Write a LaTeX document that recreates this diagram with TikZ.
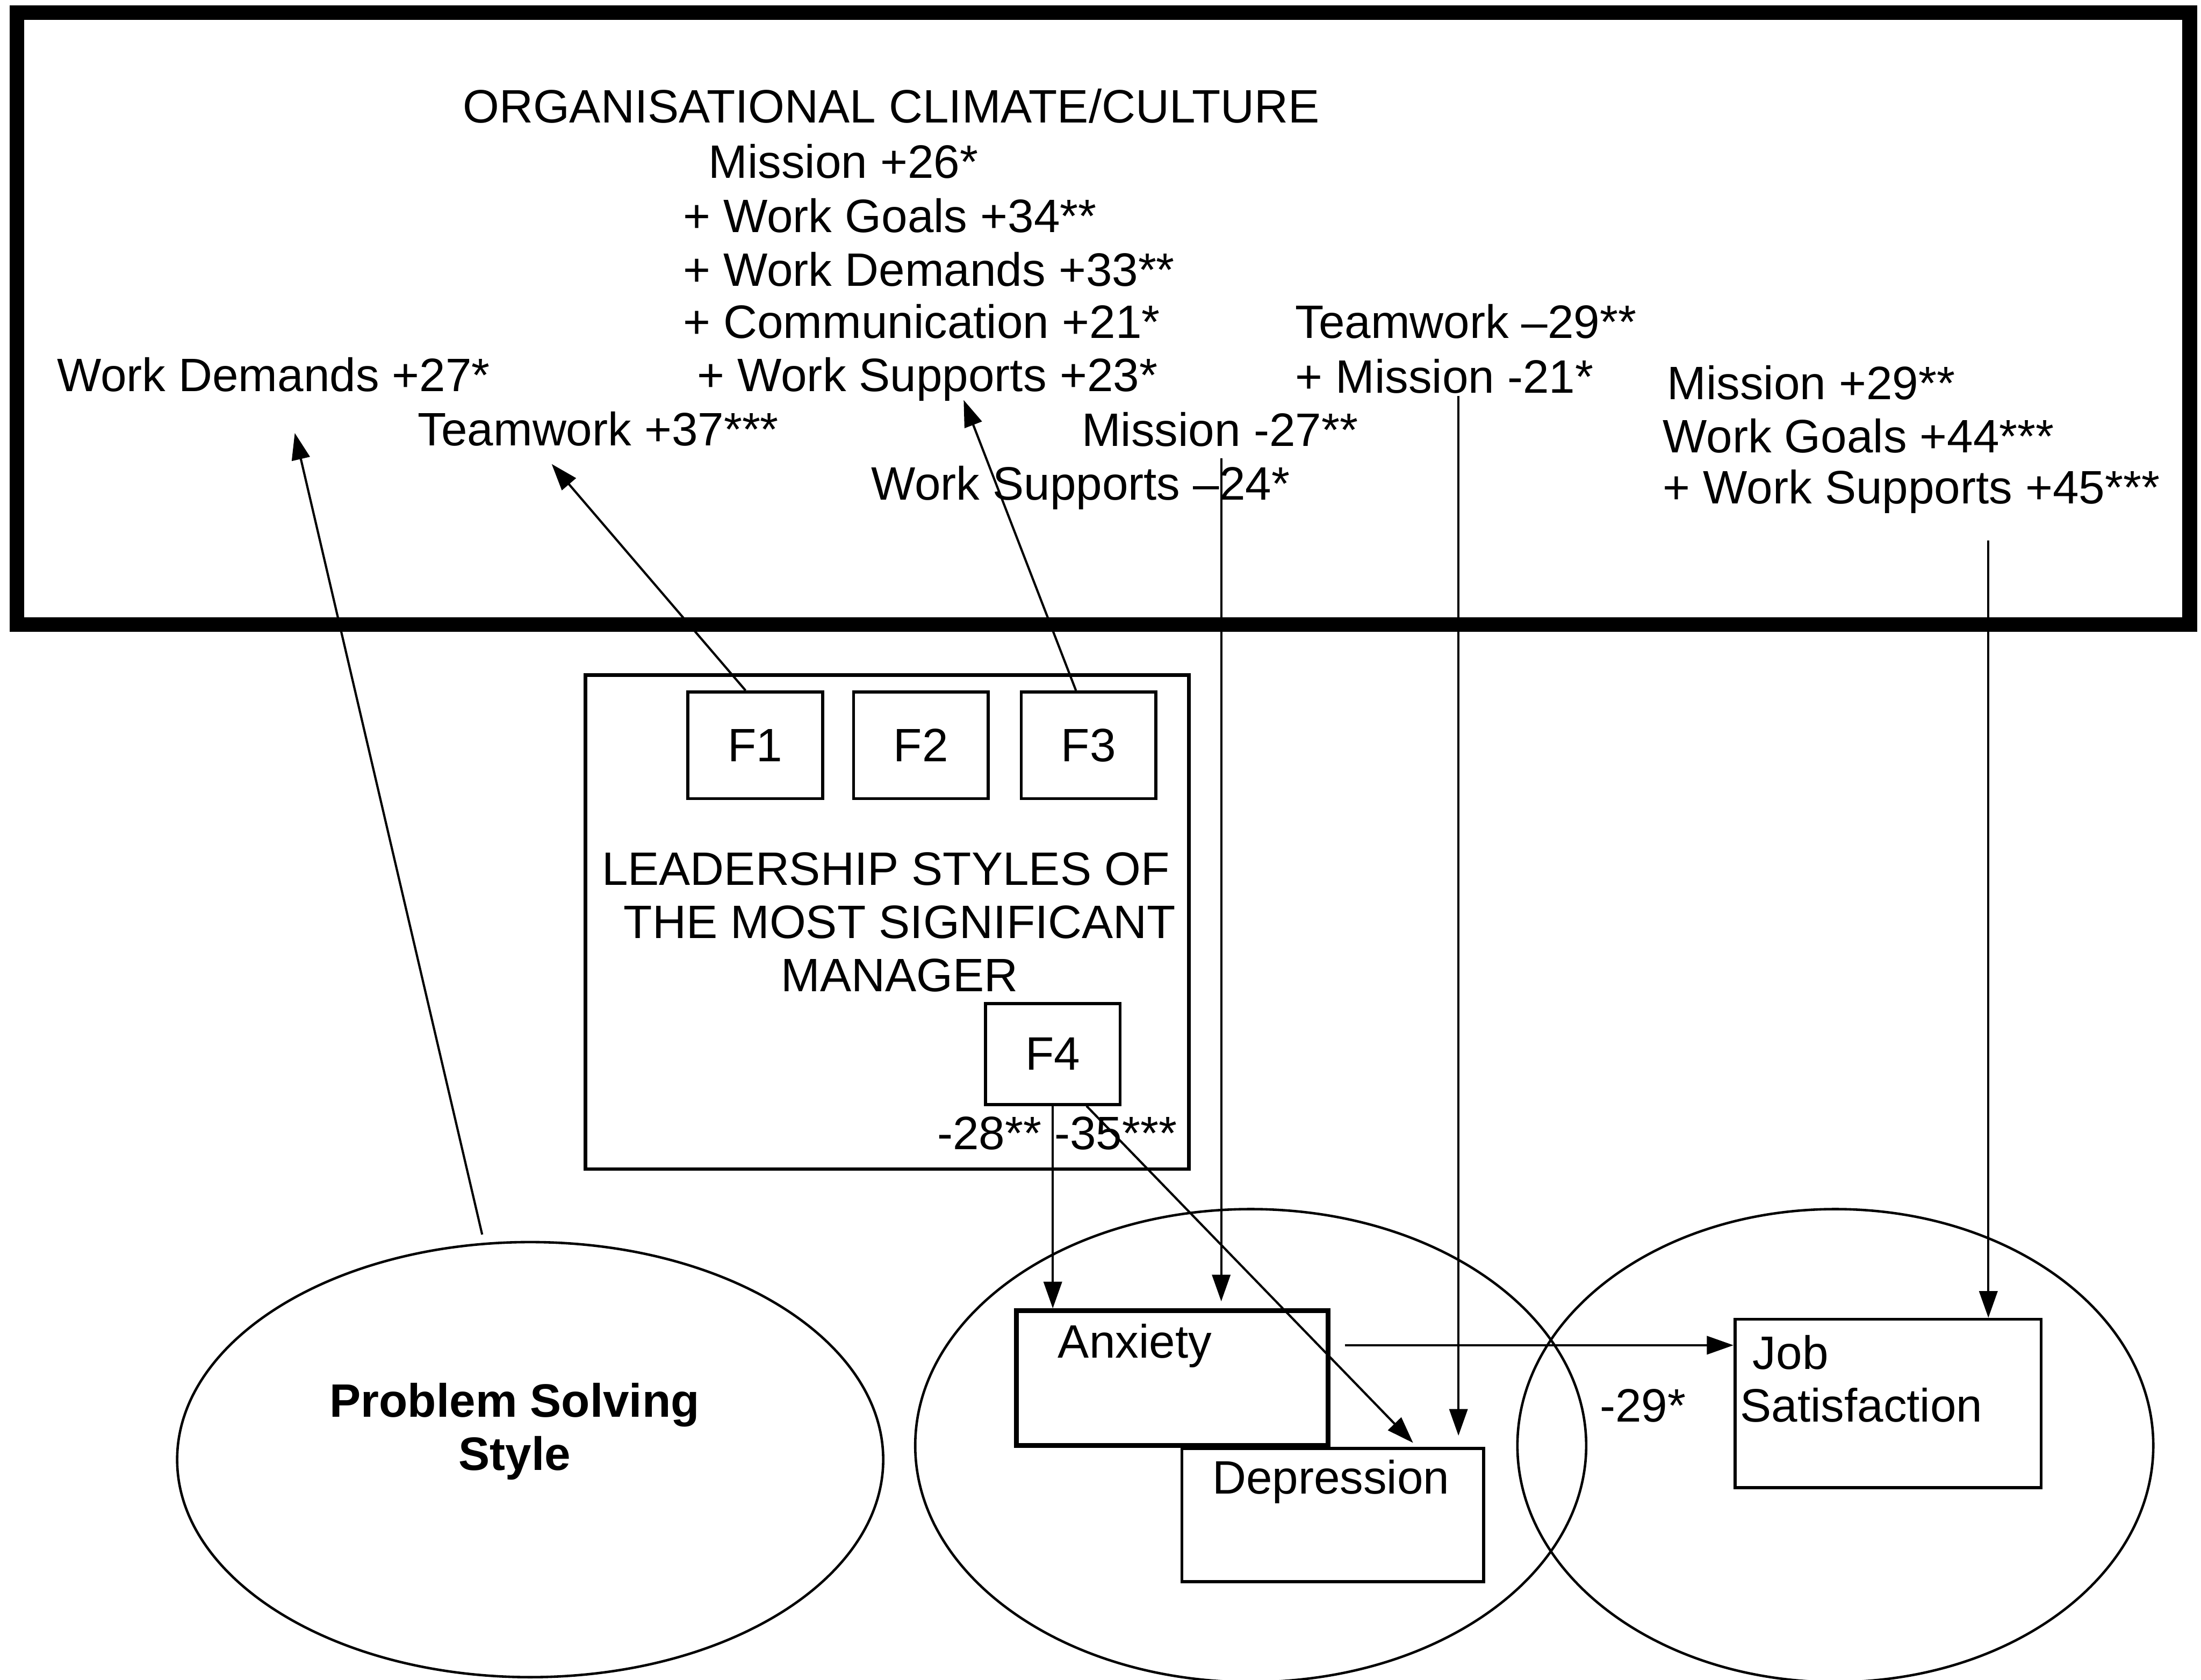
\documentclass[tikz,border=0pt]{standalone}
\usepackage{fontspec}
\setmainfont{Liberation Sans}
\usetikzlibrary{arrows.meta,shapes.geometric}

\tikzset{
	txt/.style={anchor=base west, inner sep=0pt, font=\fontsize{9.5}{10.8}\selectfont},
	fbox/.style={draw, line width=0.6pt, inner sep=0pt, font=\fontsize{9.5}{10.8}\selectfont},
	oval/.style={draw, ellipse, line width=0.5pt, inner sep=0pt},
	arr/.style={line width=0.45pt, -{Triangle[length=0.19cm, width=0.13cm]}},
}

\begin{document}
\begin{tikzpicture}
		\useasboundingbox (0,0) rectangle (15.68,-11.97);
		\draw[line width=3pt] (0.12,-0.09) rectangle (15.60,-4.45);
		
		%--- organisational climate
		\node[txt] (org) at (3.29,-0.873) {ORGANISATIONAL CLIMATE/CULTURE};
		\node[txt] (mis26) at (5.04,-1.27) {Mission +26*};
		\node[txt] (wg34) at (4.86,-1.655) {+ Work Goals +34**};
		\node[txt] (wd33) at (4.86,-2.04) {+ Work Demands +33**};
		\node[txt] (com21) at (4.86,-2.41) {+ Communication +21*};
		\node[txt] (ws23) at (4.96,-2.79) {+ Work Supports +23*};
		\node[txt] (wd27) at (0.40,-2.79) {Work Demands +27*};
		\node[txt] (tw37) at (2.97,-3.175) {Teamwork +37***};
		\node[txt] (tw29) at (9.22,-2.41) {Teamwork \textendash29**};
		\node[txt] (mis21) at (9.22,-2.80) {+ Mission -21*};
		\node[txt] (mis27) at (7.70,-3.18) {Mission -27**};
		\node[txt] (ws24) at (6.20,-3.56) {Work Supports \textendash24*};
		\node[txt] (mis29) at (11.87,-2.845) {Mission +29**};
		\node[txt] (wg44) at (11.84,-3.226) {Work Goals +44***};
		\node[txt] (ws45) at (11.84,-3.587) {+ Work Supports +45***};
		
		%--- leadership
		\node[draw, line width=0.7pt, minimum width=4.30cm, minimum height=3.52cm] (lead) at (6.32,-6.57) {};
		\node[fbox, minimum width=0.96cm, minimum height=0.76cm] (f1) at (5.38,-5.31) {F1};
		\node[fbox, minimum width=0.96cm, minimum height=0.76cm] (f2) at (6.56,-5.31) {F2};
		\node[fbox, minimum width=0.96cm, minimum height=0.76cm] (f3) at (7.755,-5.31) {F3};
		\node[align=center, inner sep=0pt, font=\fontsize{9.5}{10.8}\selectfont] (leadtxt) at (6.41,-6.57) {LEADERSHIP STYLES OF\hspace*{0.2cm}\\THE MOST SIGNIFICANT\\MANAGER};
		\node[fbox, minimum width=0.96cm, minimum height=0.72cm] (f4) at (7.50,-7.51) {F4};
		\node[txt] (f4val) at (6.67,-8.19) {-28** -35***};
		
		%--- ellipses
		\node[oval, minimum width=5.03cm, minimum height=3.10cm] (pss) at (3.777,-10.40) {};
		\node[align=center, inner sep=0pt, font=\fontsize{9.5}{10.8}\selectfont\bfseries] (psstxt) at (3.666,-10.20) {Problem Solving\\Style};
		\node[oval, minimum width=4.78cm, minimum height=3.37cm] (mood) at (8.91,-10.30) {};
		\node[oval, minimum width=4.53cm, minimum height=3.37cm] (sat) at (13.075,-10.30) {};
		
		%--- outcomes
		\node[draw, line width=1pt, minimum width=2.22cm, minimum height=0.96cm] (anx) at (8.35,-9.82) {};
		\node[draw, line width=0.6pt, minimum width=2.15cm, minimum height=0.95cm] (dep) at (9.495,-10.795) {};
		\node[draw, line width=0.6pt, minimum width=2.18cm, minimum height=1.20cm] (job) at (13.45,-10.00) {};
		\node[txt] (anxtxt) at (7.53,-9.675) {Anxiety};
		\node[txt] (deptxt) at (8.63,-10.645) {Depression};
		\node[txt] (jobtxt) at (12.48,-9.756) {Job};
		\node[txt] (sattxt) at (12.39,-10.13) {Satisfaction};
		\node[txt] (js29) at (11.39,-10.13) {-29*};
		
		%--- arrow ends
		\coordinate (wd27tip) at (2.10,-3.085);
		\coordinate (tw37tip) at (3.93,-3.306);
		\coordinate (ws23tip) at (6.865,-2.85);
		\coordinate (mis27out) at (8.70,-3.267);
		\coordinate (mis21out) at (10.39,-2.82);
		\coordinate (ws45out) at (14.165,-3.85);
		\coordinate (anxout) at (9.58,-9.585);
		
		\draw[arr, shorten <=0.06cm] (pss.102) -- (wd27tip);
		\draw[arr] (f1.100) -- (tw37tip);
		\draw[arr] (f3.103) -- (ws23tip);
		\draw[arr, shorten >=0.05cm] (mis27out) -- (mis27out |- anx.north);
		\draw[arr, shorten >=0.08cm] (mis21out) -- (mis21out |- dep.north);
		\draw[arr] (ws45out) -- (ws45out |- job.north);
		\draw[arr] (f4.south) -- (f4.south |- anx.north);
		\draw[arr, shorten >=0.04cm] (f4.-57) -- (dep.39);
		\draw[arr] (anxout) -- (anxout -| job.west);
	\end{tikzpicture}
\end{document}
